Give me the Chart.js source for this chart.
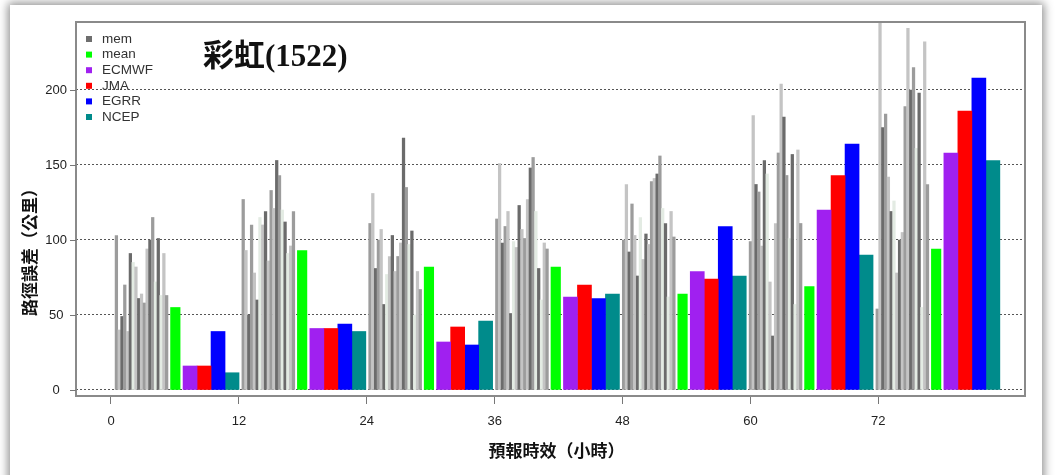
<!DOCTYPE html>
<html>
<head>
<meta charset="utf-8">
<script src="https://cdn.jsdelivr.net/npm/chart.js@4.4.1/dist/chart.umd.min.js"></script>
<style>
  html, body { margin: 0; padding: 0; background: #fff; }
  #frame { position: absolute; left: 10px; top: 5px; width: 1032px; height: 520px; background: #fff; box-shadow: 0 0 9px 2px rgba(0,0,0,0.45); }
  #myChart { position: absolute; left: 0; top: 0; }
</style>
</head>
<body>
<div id="frame"></div>
<canvas id="myChart" width="1060" height="475"></canvas>
<script>
// forecast lead times (hours) and track errors (km)
const hours = [0, 12, 24, 36, 48, 60, 72];
const xTicks = [0, 12, 24, 36, 48, 60, 72];
const yTicks = [0, 50, 100, 150, 200];

const memberErrors = [
  [103, 40, 49, 70, 39, 91, 85, 82, 61, 64, 58, 94, 100, 115, 72, 101, 63, 91, 63],
  [127, 93, 50, 110, 78, 60, 115, 110, 119, 86, 133, 121, 153, 143, 120, 112, 91, 96, 119],
  [111, 131, 81, 100, 107, 57, 77, 89, 103, 79, 89, 98, 168, 135, 97, 106, 50, 79, 67],
  [114, 151, 98, 109, 119, 51, 99, 95, 123, 107, 101, 127, 148, 155, 119, 81, 60, 98, 94],
  [100, 137, 92, 124, 103, 76, 115, 87, 104, 97, 139, 141, 144, 156, 121, 111, 62, 119, 102],
  [99, 183, 137, 132, 96, 153, 144, 72, 36, 111, 158, 204, 182, 143, 101, 157, 57, 160, 111],
  [54, 250, 175, 184, 142, 119, 126, 78, 100, 105, 189, 241, 200, 215, 161, 198, 55, 232, 137]
];
const meanErrors  = [55, 93, 82, 82, 64, 69, 94];
const ecmwfErrors = [16, 41, 32, 62, 79, 120, 158];
const jmaErrors   = [16, 41, 42, 70, 74, 143, 186];
const egrrErrors  = [39, 44, 30, 61, 109, 164, 208];
const ncepErrors  = [11.5, 39, 46, 64, 76, 90, 153];

const chartTitle = '彩虹(1522)';
const xTitle = '預報時效（小時）';
const yTitle = '路徑誤差（公里）';

// grey shades of the ensemble members
const memShades = ['#9c9c9c', '#c4c4c4', '#6b6b6b', '#9c9c9c', '#c4c4c4', '#6b6b6b', '#e3ebe3',
  '#c4c4c4', '#6b6b6b', '#c4c4c4', '#9c9c9c', '#c4c4c4', '#6b6b6b', '#9c9c9c', '#e3ebe3',
  '#6b6b6b', '#e3ebe3', '#c4c4c4', '#9c9c9c'];

const models = [
  { label: 'ECMWF', values: ecmwfErrors, color: '#a020f0' },
  { label: 'JMA',   values: jmaErrors,   color: '#ff0000' },
  { label: 'EGRR',  values: egrrErrors,  color: '#0000ff' },
  { label: 'NCEP',  values: ncepErrors,  color: '#008b8b' }
];

// layout of a group of bars along the x axis
const groupBase = h => h * 0.9915 + 0.507;
const memStep = 0.262;
const meanOffset = 5.53;
const modelOffset = 6.91;
const modelStep = 1.313;

const memPoints = [];
hours.forEach((h, g) => {
  memberErrors[g].forEach((v, i) => memPoints.push({ x: groupBase(h) + i * memStep, y: v }));
});

const datasets = [{
  label: 'mem',
  data: memPoints,
  backgroundColor: ctx => memShades[ctx.dataIndex % memShades.length],
  barThickness: 2.6,
  grouped: false,
  borderWidth: 0
}, {
  label: 'mean',
  data: hours.map((h, g) => ({ x: groupBase(h) + meanOffset, y: meanErrors[g] })),
  backgroundColor: '#00ff00',
  barThickness: 9.5,
  grouped: false,
  borderWidth: 0
}];
models.forEach((m, k) => {
  datasets.push({
    label: m.label,
    data: hours.map((h, g) => ({ x: groupBase(h) + modelOffset + k * modelStep, y: m.values[g] })),
    backgroundColor: m.color,
    barThickness: 14,
    grouped: false,
    borderWidth: 0
  });
});

const legendItems = [{ label: 'mem', color: '#6e6e6e' }, { label: 'mean', color: '#00ff00' }]
  .concat(models.map(m => ({ label: m.label, color: m.color })));

const decor = {
  id: 'decor',
  afterDraw(chart) {
    const { ctx, chartArea: a, scales } = chart;
    ctx.save();
    ctx.strokeStyle = '#8a8a8a';
    ctx.lineWidth = 2;
    ctx.strokeRect(a.left, a.top, a.right - a.left, a.bottom - a.top);

    ctx.lineWidth = 1;
    ctx.strokeStyle = '#777';
    yTicks.forEach(v => {
      const y = Math.round(scales.y.getPixelForValue(v)) + 0.5;
      ctx.beginPath();
      ctx.moveTo(a.left - 6, y);
      ctx.lineTo(a.left, y);
      ctx.stroke();
    });

    // legend inside plot
    ctx.font = "13.5px 'Liberation Sans', Arial, sans-serif";
    ctx.textBaseline = 'middle';
    ctx.textAlign = 'left';
    legendItems.forEach((item, i) => {
      const y = a.top + 17 + i * 15.6;
      ctx.fillStyle = item.color;
      ctx.fillRect(a.left + 10, y - 3, 6, 6);
      ctx.fillStyle = '#333';
      ctx.fillText(item.label, a.left + 26, y);
    });

    ctx.fillStyle = '#111';
    ctx.font = "bold 31px 'Liberation Serif', 'Noto Sans CJK TC', serif";
    ctx.fillText(chartTitle, a.left + 127, a.top + 36);

    ctx.font = "bold 17px 'Noto Sans CJK TC', sans-serif";
    ctx.textAlign = 'center';
    ctx.fillText(xTitle, (a.left + a.right) / 2 + 6, 451);
    ctx.translate(30, 248);
    ctx.rotate(-Math.PI / 2);
    ctx.fillText(yTitle, 0, 0);
    ctx.restore();
  }
};

const tickFont = { family: "'Liberation Sans Narrow', 'Liberation Sans', Arial, sans-serif", size: 13 };

new Chart(document.getElementById('myChart'), {
  type: 'bar',
  data: { datasets },
  plugins: [decor],
  options: {
    responsive: false,
    animation: false,
    devicePixelRatio: 1,
    layout: { padding: { left: 0, top: 22, right: 35, bottom: 0 } },
    plugins: { legend: { display: false }, tooltip: { enabled: false } },
    scales: {
      x: {
        type: 'linear',
        offset: false,
        min: -3.284,
        max: 85.76,
        afterBuildTicks: axis => { axis.ticks = xTicks.map(v => ({ value: v })); },
        afterFit: scale => { scale.height = 79; },
        grid: { display: true, offset: false, drawOnChartArea: false, drawTicks: true, tickLength: 8, color: '#777' },
        border: { display: false },
        ticks: { padding: 10, font: tickFont, color: '#222', maxRotation: 0, autoSkip: false }
      },
      y: {
        min: -4,
        max: 245.3,
        afterBuildTicks: axis => { axis.ticks = yTicks.map(v => ({ value: v })); },
        afterFit: scale => { scale.width = 76; },
        grid: { color: '#555', drawTicks: false, lineWidth: 1 },
        border: { display: false, dash: [2, 2] },
        ticks: { padding: 9, crossAlign: 'center', font: tickFont, color: '#222' }
      }
    }
  }
});
</script>
</body>
</html>
